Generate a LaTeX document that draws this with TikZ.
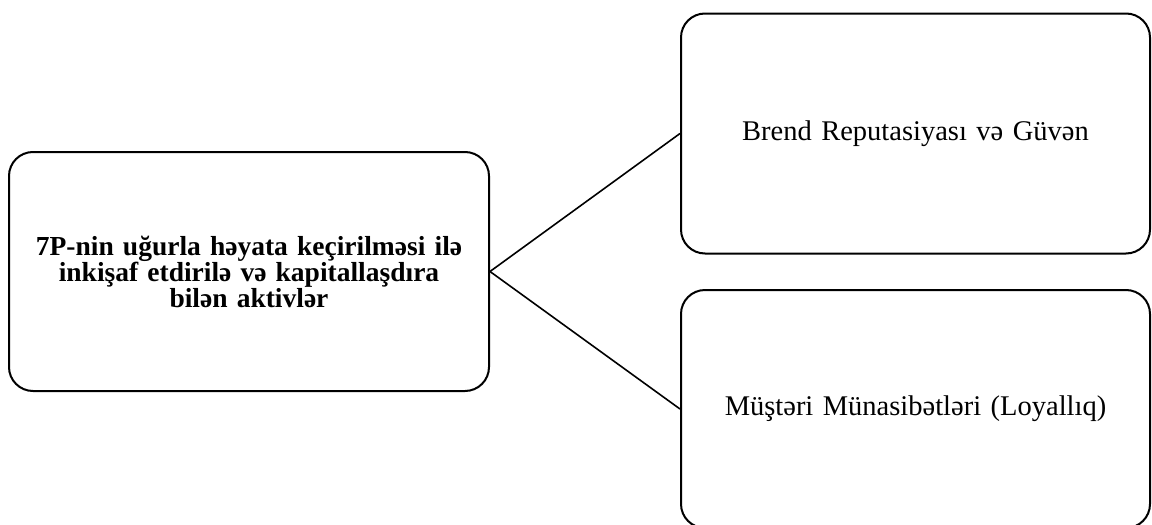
\documentclass[tikz,border=0pt]{standalone}
\usepackage{fontspec}
\setmainfont{Liberation Serif}
\begin{document}
\begin{tikzpicture}[x=1pt,y=-1pt,
  box/.style={draw=black, line width=2pt, rounded corners=24pt, align=center, inner sep=0pt},
  link/.style={draw=black, line width=1.6pt}]
\useasboundingbox (0,0) rectangle (1152,525);
\node[box, minimum width=480pt, minimum height=239pt, text width=470pt,
  font=\fontsize{27.5}{26}\selectfont\bfseries] (main) at (249,271.5)
  {7P-nin uğurla həyata keçirilməsi ilə\\ inkişaf etdirilə və kapitallaşdıra\\ bilən aktivlər};
\node[box, minimum width=469pt, minimum height=240pt, text width=460pt,
  font=\fontsize{28.5}{30}\selectfont] (brand) at (915.5,133.5)
  {Brend Reputasiyası və Güvən};
\node[box, minimum width=469pt, minimum height=238pt, text width=460pt,
  font=\fontsize{28.5}{30}\selectfont] (cust) at (915.5,409)
  {Müştəri Münasibətləri (Loyallıq)};
\draw[link] (main.east) -- (brand.west);
\draw[link] (main.east) -- (cust.west);
\end{tikzpicture}
\end{document}
